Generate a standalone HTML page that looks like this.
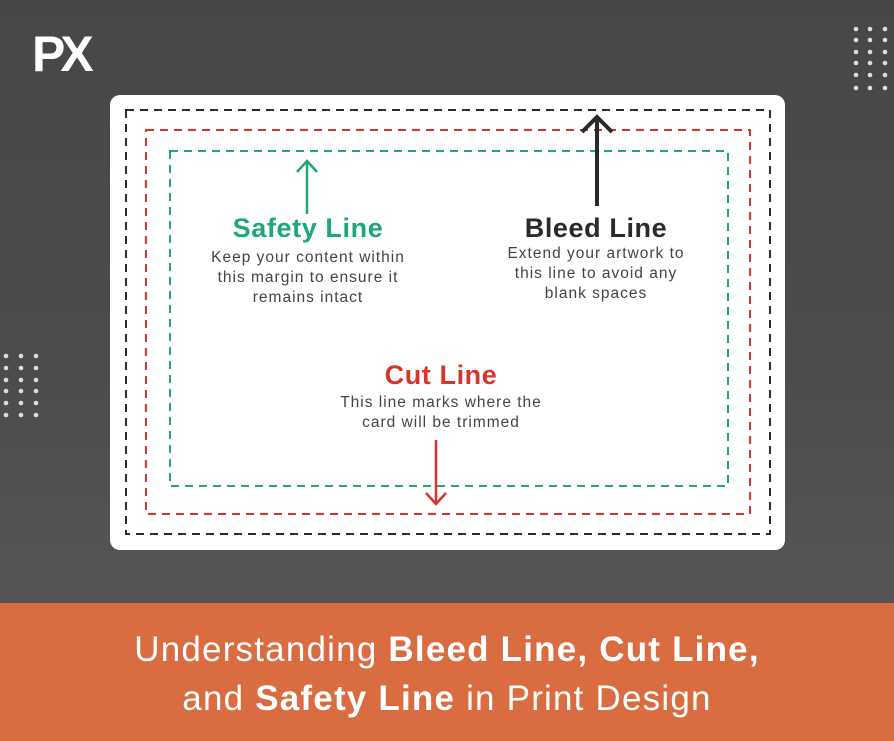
<!DOCTYPE html>
<html><head><meta charset="utf-8"><style>
html,body{margin:0;padding:0}
body{width:894px;height:741px;position:relative;overflow:hidden;background:linear-gradient(180deg,#474747 0%,#4c4c4c 50%,#555 80%);font-family:"Liberation Sans",sans-serif}
.card{position:absolute;left:110px;top:95px;width:675px;height:455px;background:#fff;border-radius:10px}
.t{position:absolute;text-align:center;white-space:nowrap;transform:translateX(-50%)}
.h{font-weight:bold;font-size:27px;line-height:30px;letter-spacing:0.6px}
.d{font-size:15.5px;line-height:20px;color:#444;letter-spacing:1px}
.banner{position:absolute;left:0;top:603px;width:894px;height:138px;background:#d96d41;color:#fff;text-align:center;font-size:35px;line-height:49px;letter-spacing:1.2px;padding-top:22px;box-sizing:border-box}
</style></head><body>
<div style="position:absolute;left:32px;top:28px;color:#fff;font-weight:bold;font-size:50px;line-height:52px;letter-spacing:-5px">PX</div>
<svg style="position:absolute;left:0;top:0" width="894" height="741">
<g fill="#ddd">
<circle cx="856" cy="29" r="2.3"/><circle cx="870" cy="29" r="2.3"/><circle cx="885" cy="29" r="2.3"/>
<circle cx="856" cy="40" r="2.3"/><circle cx="870" cy="40" r="2.3"/><circle cx="885" cy="40" r="2.3"/>
<circle cx="856" cy="52" r="2.3"/><circle cx="870" cy="52" r="2.3"/><circle cx="885" cy="52" r="2.3"/>
<circle cx="856" cy="63" r="2.3"/><circle cx="870" cy="63" r="2.3"/><circle cx="885" cy="63" r="2.3"/>
<circle cx="856" cy="75" r="2.3"/><circle cx="870" cy="75" r="2.3"/><circle cx="885" cy="75" r="2.3"/>
<circle cx="856" cy="88" r="2.3"/><circle cx="870" cy="88" r="2.3"/><circle cx="885" cy="88" r="2.3"/>
<circle cx="6" cy="356" r="2.3"/><circle cx="21" cy="356" r="2.3"/><circle cx="36" cy="356" r="2.3"/>
<circle cx="6" cy="368" r="2.3"/><circle cx="21" cy="368" r="2.3"/><circle cx="36" cy="368" r="2.3"/>
<circle cx="6" cy="380" r="2.3"/><circle cx="21" cy="380" r="2.3"/><circle cx="36" cy="380" r="2.3"/>
<circle cx="6" cy="391" r="2.3"/><circle cx="21" cy="391" r="2.3"/><circle cx="36" cy="391" r="2.3"/>
<circle cx="6" cy="403" r="2.3"/><circle cx="21" cy="403" r="2.3"/><circle cx="36" cy="403" r="2.3"/>
<circle cx="6" cy="415" r="2.3"/><circle cx="21" cy="415" r="2.3"/><circle cx="36" cy="415" r="2.3"/>
</g>
</svg>
<div class="card"></div>
<svg style="position:absolute;left:0;top:0" width="894" height="741">
<rect x="126" y="110" width="644" height="424" fill="none" stroke="#2a2a2a" stroke-width="2" stroke-dasharray="8 6"/>
<rect x="146" y="130" width="604" height="384" fill="none" stroke="#d9342b" stroke-width="2" stroke-dasharray="8 6"/>
<rect x="170" y="151" width="558" height="335" fill="none" stroke="#1fa67a" stroke-width="2" stroke-dasharray="8 6"/>
<g stroke="#1fa67a" stroke-width="2.5" fill="none"><line x1="307" y1="161" x2="307" y2="214"/><polyline points="297,172 307,161 317,172"/></g>
<g stroke="#2a2a2a" stroke-width="4" fill="none"><line x1="597" y1="117" x2="597" y2="206"/><polyline points="582,132 597,117 612,132"/></g>
<g stroke="#d9342b" stroke-width="2.5" fill="none"><line x1="436" y1="440" x2="436" y2="504"/><polyline points="426,493 436,504 446,493"/></g>
</svg>
<div class="t h" style="left:308px;top:213px;color:#1fa67a">Safety Line</div>
<div class="t d" style="left:308px;top:248px">Keep your content within<br>this margin to ensure it<br>remains intact</div>
<div class="t h" style="left:596px;top:213px;color:#2b2b2b">Bleed Line</div>
<div class="t d" style="left:596px;top:244px">Extend your artwork to<br>this line to avoid any<br>blank spaces</div>
<div class="t h" style="left:441px;top:360px;color:#d9342b">Cut Line</div>
<div class="t d" style="left:441px;top:393px">This line marks where the<br>card will be trimmed</div>
<div class="banner">Understanding <b>Bleed Line, Cut Line,</b><br>and <b>Safety Line</b> in Print Design</div>
</body></html>
